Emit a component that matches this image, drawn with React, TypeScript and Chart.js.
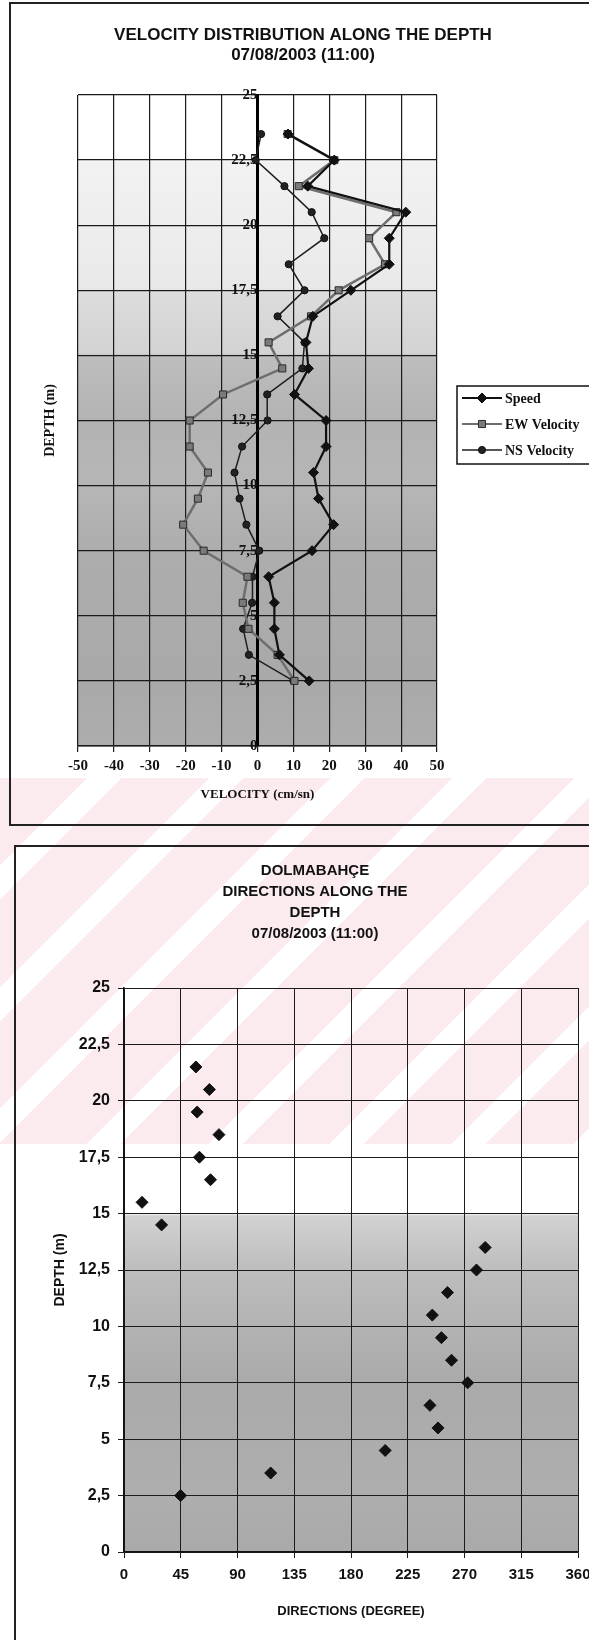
import React, { useEffect, useRef } from 'react';
import { Chart, registerables } from 'chart.js';

Chart.register(...registerables);

// ---------- DATA ----------
const depths = [2.5, 3.5, 4.5, 5.5, 6.5, 7.5, 8.5, 9.5, 10.5, 11.5, 12.5, 13.5, 14.5, 15.5, 16.5, 17.5, 18.5, 19.5, 20.5, 21.5, 22.5, 23.5];
const speed = [14.4, 6.1, 4.7, 4.7, 3.1, 15.2, 21.2, 17.0, 15.6, 19.1, 19.1, 10.3, 14.2, 13.5, 15.4, 26.0, 36.7, 36.7, 41.3, 14.0, 21.4, 8.5];
const ewVelocity = [10.3, 5.6, -2.5, -4.1, -2.8, -15.0, -20.7, -16.6, -13.8, -18.9, -18.9, -9.6, 6.9, 3.1, 14.9, 22.6, 35.5, 31.1, 38.7, 11.5, 21.4, 8.4];
const nsVelocity = [10.0, -2.4, -4.0, -1.5, -1.4, 0.5, -3.1, -5.0, -6.4, -4.3, 2.8, 2.7, 12.5, 13.1, 5.6, 13.1, 8.7, 18.6, 15.1, 7.5, -0.5, 1.0];

const directionDepths = [2.5, 3.5, 4.5, 5.5, 6.5, 7.5, 8.5, 9.5, 10.5, 11.5, 12.5, 13.5, 14.5, 15.5, 16.5, 17.5, 18.5, 19.5, 20.5, 21.5];
const directions = [44.9, 116.3, 207.1, 249, 242.6, 272.5, 259.7, 251.7, 244.5, 256.5, 279.5, 286.4, 29.8, 14.3, 68.6, 59.8, 75.3, 58, 67.7, 57];

const seriesLabels = ['Speed', 'EW Velocity', 'NS Velocity'];
const velocityTicks = ['-50', '-40', '-30', '-20', '-10', '0', '10', '20', '30', '40', '50'];
const depthTicks = ['0', '2,5', '5', '7,5', '10', '12,5', '15', '17,5', '20', '22,5', '25'];
const directionTicks = ['0', '45', '90', '135', '180', '225', '270', '315', '360'];

const chart1Title = ['VELOCITY DISTRIBUTION ALONG THE DEPTH', '07/08/2003 (11:00)'];
const chart1XTitle = 'VELOCITY (cm/sn)';
const chart1YTitle = 'DEPTH (m)';
const chart2Title = ['DOLMABAHÇE', 'DIRECTIONS ALONG THE', 'DEPTH', '07/08/2003 (11:00)'];
const chart2XTitle = 'DIRECTIONS (DEGREE)';
const chart2YTitle = 'DEPTH (m)';

// ---------- PLUGINS ----------
const bandBackground = {
  id: 'bandBg',
  beforeDraw(chart: any, _args: any, opts: any) {
    if (!opts || !opts.stops) return;
    const { ctx, chartArea } = chart;
    const { left, top, right, bottom } = chartArea;
    const sc = chart.scales[opts.scaleId];
    const g = ctx.createLinearGradient(0, top, 0, bottom);
    opts.stops.forEach(([v, c]: [number, string]) => {
      let p = (sc.getPixelForValue(v) - top) / (bottom - top);
      p = Math.max(0, Math.min(1, p));
      g.addColorStop(p, c);
    });
    ctx.save();
    ctx.fillStyle = g;
    ctx.fillRect(left, top, right - left, bottom - top);
    ctx.restore();
  },
};

const freeText = {
  id: 'freeText',
  afterDraw(chart: any, _args: any, opts: any) {
    if (!opts || !opts.lines) return;
    const { ctx } = chart;
    ctx.save();
    ctx.font = opts.font;
    ctx.fillStyle = opts.color || '#111';
    ctx.textAlign = 'center';
    ctx.textBaseline = 'middle';
    opts.lines.forEach((t: string, i: number) => {
      ctx.fillText(t, opts.x, opts.y + i * opts.lineHeight);
    });
    ctx.restore();
  },
};

function drawMarker(ctx: any, style: string, x: number, y: number, r: number) {
  ctx.beginPath();
  if (style === 'rectRot') {
    ctx.moveTo(x - r, y);
    ctx.lineTo(x, y - r);
    ctx.lineTo(x + r, y);
    ctx.lineTo(x, y + r);
    ctx.closePath();
  } else if (style === 'rect') {
    const s = r * Math.SQRT1_2;
    ctx.rect(x - s, y - s, 2 * s, 2 * s);
  } else {
    ctx.arc(x, y, r, 0, Math.PI * 2);
  }
  ctx.fill();
  ctx.stroke();
}

const boxLegend = {
  id: 'boxLegend',
  afterDraw(chart: any, _args: any, opts: any) {
    if (!opts || !opts.display) return;
    const { ctx, chartArea } = chart;
    const x0 = chartArea.right + opts.offsetX;
    const y0 = opts.top;
    ctx.save();
    ctx.fillStyle = '#ffffff';
    ctx.fillRect(x0, y0, opts.width, opts.height);
    ctx.strokeStyle = '#111';
    ctx.lineWidth = 1.5;
    ctx.strokeRect(x0, y0, opts.width, opts.height);
    chart.data.datasets.forEach((ds: any, i: number) => {
      const y = y0 + opts.firstRow + i * opts.rowGap;
      ctx.strokeStyle = ds.borderColor;
      ctx.lineWidth = Math.min(ds.borderWidth, 2);
      ctx.beginPath();
      ctx.moveTo(x0 + 5, y);
      ctx.lineTo(x0 + 45, y);
      ctx.stroke();
      ctx.fillStyle = ds.pointBackgroundColor;
      ctx.strokeStyle = ds.pointBorderColor;
      ctx.lineWidth = 1;
      drawMarker(ctx, ds.pointStyle, x0 + 25, y, ds.pointRadius);
      ctx.fillStyle = '#111';
      ctx.font = opts.font;
      ctx.textAlign = 'left';
      ctx.textBaseline = 'middle';
      ctx.fillText(ds.label, x0 + 48, y + 1);
    });
    ctx.restore();
  },
};

const serif = '"Liberation Serif", "Times New Roman", serif';
const sans = '"Liberation Sans", Arial, sans-serif';

function VelocityChart() {
  const ref = useRef<HTMLCanvasElement | null>(null);
  useEffect(() => {
    if (!ref.current) return;
    const mk = (vals: number[]) => vals.map((v, i) => ({ x: v, y: depths[i] }));
    const chart = new Chart(ref.current, {
      type: 'scatter',
      data: {
        datasets: [
          {
            label: seriesLabels[0],
            data: mk(speed),
            showLine: true,
            borderColor: '#111111',
            borderWidth: 2.2,
            pointStyle: 'rectRot',
            pointRadius: 5,
            pointBackgroundColor: '#111111',
            pointBorderColor: '#111111',
            pointBorderWidth: 1,
            order: 1,
          },
          {
            label: seriesLabels[1],
            data: mk(ewVelocity),
            showLine: true,
            borderColor: '#6e6e6e',
            borderWidth: 2.5,
            pointStyle: 'rect',
            pointRadius: 5,
            pointBackgroundColor: '#7a7a7a',
            pointBorderColor: '#2a2a2a',
            pointBorderWidth: 1,
            order: 2,
          },
          {
            label: seriesLabels[2],
            data: mk(nsVelocity),
            showLine: true,
            borderColor: '#1e1e1e',
            borderWidth: 1.5,
            pointStyle: 'circle',
            pointRadius: 3.6,
            pointBackgroundColor: '#222222',
            pointBorderColor: '#111111',
            pointBorderWidth: 1,
            order: 3,
          },
        ],
      } as any,
      options: {
        responsive: false,
        animation: false,
        layout: { padding: { top: 95, right: 152, left: 0, bottom: 0 } },
        plugins: {
          legend: { display: false },
          title: { display: false },
          tooltip: { enabled: false },
          bandBg: {
            scaleId: 'y',
            stops: [
              [25, '#ffffff'], [22.6, '#ffffff'], [22.4, '#f2f2f2'], [17.6, '#e9e9e9'],
              [17.4, '#dcdcdc'], [15.1, '#d3d3d3'], [14.9, '#bdbdbd'], [12.5, '#b3b3b3'],
              [10, '#b6b6b6'], [7.5, '#adadad'], [2.5, '#a9a9a9'], [0, '#adadad'],
            ],
          },
          freeText: { lines: chart1Title, x: 303, y: 35, lineHeight: 20, font: `bold 17px ${sans}`, color: '#111' },
          boxLegend: { display: true, offsetX: 20, top: 386, width: 140, height: 78, firstRow: 12, rowGap: 26, font: `bold 14px ${serif}` },
        } as any,
        scales: {
          x: {
            type: 'linear',
            position: 'bottom',
            min: -50,
            max: 50,
            ticks: {
              stepSize: 10,
              autoSkip: false,
              maxRotation: 0,
              padding: 5,
              color: '#111',
              font: { family: serif, size: 15, weight: 'bold' },
              callback: (_v: any, i: number) => velocityTicks[i],
            },
            grid: { color: '#1a1a1a', lineWidth: 1.2, tickLength: 6 },
            border: { color: '#1a1a1a', width: 1.5 },
            title: {
              display: true,
              text: chart1XTitle,
              color: '#111',
              font: { family: serif, size: 13, weight: 'bold' },
              padding: { top: 0, bottom: 28 },
            },
            afterFit: (s: any) => { s.height = 84; },
          },
          y: {
            type: 'linear',
            position: { x: 0 },
            min: 0,
            max: 25,
            ticks: {
              stepSize: 2.5,
              autoSkip: false,
              padding: 2,
              color: '#111',
              font: { family: serif, size: 15, weight: 'bold' },
              callback: (_v: any, i: number) => depthTicks[i],
            },
            grid: { color: '#1a1a1a', lineWidth: 1.2, tickLength: 5 },
            border: { color: '#000', width: 3 },
          },
          yTitle: {
            type: 'linear',
            position: 'left',
            min: 0,
            max: 25,
            ticks: { display: false },
            grid: { display: false, drawTicks: false },
            border: { display: false },
            title: {
              display: true,
              text: chart1YTitle,
              color: '#111',
              font: { family: serif, size: 14, weight: 'bold' },
              padding: { top: 42, bottom: 0 },
            },
            afterFit: (s: any) => { s.width = 78; },
          },
        } as any,
      },
      plugins: [bandBackground, freeText, boxLegend],
    });
    return () => chart.destroy();
  }, []);
  return <canvas ref={ref} width={589} height={830} style={{ position: 'absolute', left: 0, top: 0, width: 589, height: 830 }} />;
}

function DirectionChart() {
  const ref = useRef<HTMLCanvasElement | null>(null);
  useEffect(() => {
    if (!ref.current) return;
    const chart = new Chart(ref.current, {
      type: 'scatter',
      data: {
        datasets: [
          {
            label: 'Direction',
            data: directions.map((d, i) => ({ x: d, y: directionDepths[i] })),
            pointStyle: 'rectRot',
            pointRadius: 6,
            pointBackgroundColor: '#111111',
            pointBorderColor: '#111111',
            pointBorderWidth: 1,
          },
        ],
      } as any,
      options: {
        responsive: false,
        animation: false,
        layout: { padding: { top: 148, right: 42, left: 0, bottom: 0 } },
        plugins: {
          legend: { display: false },
          title: { display: false },
          tooltip: { enabled: false },
          bandBg: {
            scaleId: 'y',
            stops: [
              [25, 'rgba(255,255,255,0)'], [15.1, 'rgba(255,255,255,0)'], [14.9, '#d2d2d2'],
              [12.5, '#bdbdbd'], [10, '#b3b3b3'], [7.5, '#aaaaaa'], [2.5, '#aeaeae'], [0, '#a9a9a9'],
            ],
          },
          freeText: { lines: chart2Title, x: 315, y: 31, lineHeight: 21, font: `bold 15px ${sans}`, color: '#111' },
        } as any,
        scales: {
          x: {
            type: 'linear',
            min: 0,
            max: 360,
            ticks: {
              stepSize: 45,
              autoSkip: false,
              maxRotation: 0,
              padding: 8,
              color: '#111',
              font: { family: sans, size: 15, weight: 'bold' },
              callback: (_v: any, i: number) => directionTicks[i],
            },
            grid: { color: '#1c1c1c', lineWidth: 1, tickLength: 6 },
            border: { color: '#111', width: 1.5 },
            title: {
              display: true,
              text: chart2XTitle,
              color: '#111',
              font: { family: sans, size: 13, weight: 'bold' },
              padding: { top: 0, bottom: 21 },
            },
            afterFit: (s: any) => { s.height = 88; },
          },
          y: {
            type: 'linear',
            position: 'left',
            min: 0,
            max: 25,
            ticks: {
              stepSize: 2.5,
              autoSkip: false,
              padding: 8,
              color: '#111',
              font: { family: sans, size: 16, weight: 'bold' },
              callback: (_v: any, i: number) => depthTicks[i],
            },
            grid: { color: '#1c1c1c', lineWidth: 1, tickLength: 6 },
            border: { color: '#111', width: 1.5 },
            title: {
              display: true,
              text: chart2YTitle,
              color: '#111',
              font: { family: sans, size: 14, weight: 'bold' },
              padding: { top: 52, bottom: 0 },
            },
            afterFit: (s: any) => { s.width = 124; },
          },
        } as any,
      },
      plugins: [bandBackground, freeText],
    });
    return () => chart.destroy();
  }, []);
  return <canvas ref={ref} width={620} height={800} style={{ position: 'absolute', left: 0, top: 840, width: 620, height: 800 }} />;
}

export default function App() {
  useEffect(() => {
    document.body.style.margin = '0';
  }, []);
  return (
    <div style={{ position: 'relative', width: 589, height: 1640, overflow: 'hidden', background: '#ffffff' }}>
      <div
        style={{
          position: 'absolute',
          left: 0,
          top: 778,
          width: 589,
          height: 366,
          background: 'repeating-linear-gradient(135deg, #fcebee 0px, #fcebee 62px, #ffffff 62px, #ffffff 86px)',
        }}
      />
      <div style={{ position: 'absolute', left: 9, top: 2, width: 640, height: 824, border: '2px solid #222', boxSizing: 'border-box' }} />
      <div style={{ position: 'absolute', left: 14, top: 845, width: 640, height: 840, border: '2px solid #222', boxSizing: 'border-box' }} />
      <VelocityChart />
      <DirectionChart />
    </div>
  );
}
